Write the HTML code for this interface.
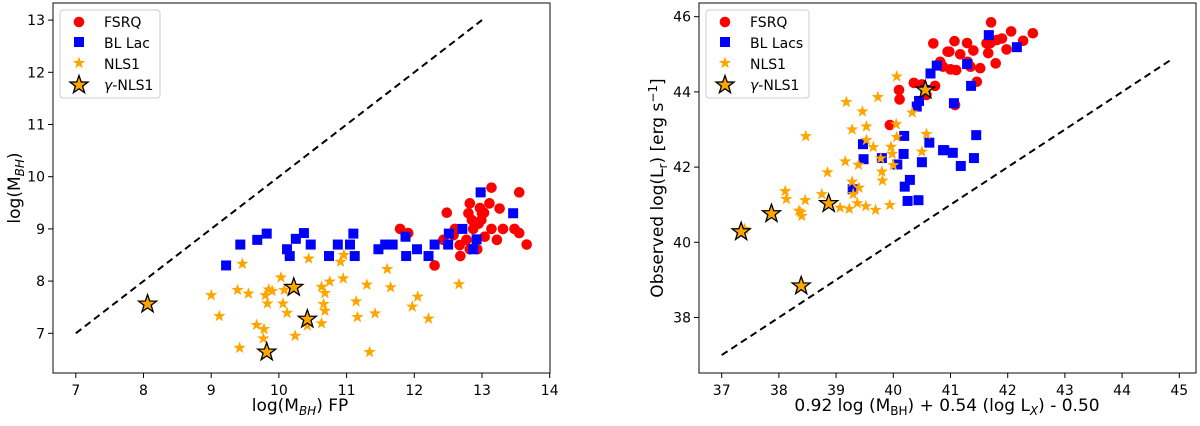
<!DOCTYPE html>
<html><head><meta charset="utf-8"><style>
html,body{margin:0;padding:0;background:#fff;}
svg{display:block;font-family:"DejaVu Sans","Liberation Sans",sans-serif;}
</style></head><body>
<svg id="fig" width="1200" height="426" viewBox="0 0 1200 426" xmlns="http://www.w3.org/2000/svg"></svg>
<script>
// ---- Left panel data ----
const leftFsrqX=[13.14,13.55,12.48,12.82,12.97,13.11,13.26,12.80,13.0,13.03,12.85,12.99,11.79,11.91,12.60,12.87,13.14,13.31,13.48,13.55,13.66,13.22,13.04,12.77,12.43,12.67,12.82,12.93,12.68,12.30,12.58,12.95];
const leftFsrqY=[9.79,9.70,9.31,9.49,9.40,9.49,9.39,9.30,9.30,9.31,9.17,9.17,9.00,8.92,9.00,9.00,9.00,9.00,9.00,8.92,8.70,8.79,8.85,8.79,8.79,8.69,8.61,8.61,8.48,8.30,8.88,9.10];
const leftBlX=[9.22,9.43,9.68,9.82,10.12,10.16,10.25,10.37,10.47,10.74,10.87,11.05,11.10,11.12,11.47,11.57,11.68,11.87,11.88,12.04,12.21,12.30,12.50,12.51,12.71,12.92,12.87,12.98,13.46];
const leftBlY=[8.30,8.70,8.79,8.91,8.61,8.48,8.81,8.92,8.70,8.48,8.70,8.70,8.91,8.48,8.61,8.70,8.70,8.85,8.48,8.61,8.48,8.70,8.70,8.91,9.00,8.80,8.61,9.70,9.30];
const leftNlsX=[9.0,9.12,9.39,9.55,9.46,9.42,9.67,9.78,9.77,9.80,9.85,9.9,9.83,10.03,10.06,10.12,10.08,10.24,10.44,10.96,10.91,10.95,10.75,10.63,10.68,10.66,10.68,10.63,10.42,11.30,11.14,11.16,11.42,11.34,11.60,11.65,12.05,11.97,12.21,12.66];
const leftNlsY=[7.73,7.33,7.83,7.76,8.33,6.72,7.16,7.08,6.90,7.73,7.84,7.81,7.57,8.07,7.57,7.39,7.83,6.95,8.43,8.50,8.37,8.05,7.99,7.89,7.77,7.56,7.43,7.19,7.15,7.93,7.61,7.31,7.38,6.64,8.23,7.88,7.70,7.51,7.28,7.94];
const leftGamX=[8.06,10.22,10.42,9.82];
const leftGamY=[7.56,7.88,7.27,6.64];
const leftXTicks=[7,8,9,10,11,12,13,14];
const leftYTicks=[7,8,9,10,11,12,13];
const leftLine=[7,13];
// ---- Right panel data ----
const rightFsrqX=[41.71,42.06,42.44,40.70,41.07,41.29,40.98,41.17,41.40,41.63,41.81,41.9,41.98,42.27,41.66,41.79,41.52,41.35,40.87,41.0,41.1,40.82,41.46,40.36,40.5,40.73,40.10,40.11,39.94,41.08,41.3,41.7,40.95,40.58];
const rightFsrqY=[45.85,45.61,45.56,45.29,45.35,45.3,45.07,45.0,45.1,45.29,45.38,45.42,45.13,45.36,45.03,44.76,44.63,44.67,44.67,44.6,44.58,44.8,44.27,44.24,44.2,44.16,44.05,43.80,43.12,43.65,44.8,45.3,45.07,43.92];
const rightBlX=[39.29,39.47,39.48,39.80,40.07,40.18,40.19,40.20,40.29,40.25,40.44,40.50,40.63,40.41,40.45,40.65,40.76,40.87,40.89,41.04,41.18,41.41,41.45,41.06,41.36,41.29,41.67,42.16,40.56];
const rightBlY=[41.41,42.61,42.21,42.24,42.07,42.35,42.83,41.48,41.66,41.10,41.12,42.13,42.65,43.61,43.76,44.49,44.70,42.45,42.45,42.38,42.03,42.24,42.85,43.70,44.16,44.74,45.51,45.19,44.05];
const rightNlsX=[37.4,38.11,38.13,38.35,38.4,38.38,38.46,38.47,38.75,38.85,39.07,39.16,39.18,39.23,39.28,39.3,39.37,39.4,39.39,39.28,39.46,39.53,39.53,39.52,39.65,39.73,39.69,39.78,39.80,39.81,39.94,39.96,39.98,40.0,40.05,40.06,40.06,40.33,40.50,40.58];
const rightNlsY=[40.35,41.36,41.15,40.84,40.7,40.8,41.12,42.82,41.28,41.86,40.92,42.15,43.73,40.89,41.61,41.28,41.04,41.45,42.06,43.0,43.48,43.08,42.72,40.96,42.53,43.86,40.86,42.23,41.88,41.64,40.99,42.54,42.35,42.05,43.14,42.8,44.41,43.45,42.41,42.88];
const rightGamX=[37.34,37.87,38.87,38.39,40.56];
const rightGamY=[40.28,40.76,41.03,38.84,44.05];
const rightXTicks=[37,38,39,40,41,42,43,44,45];
const rightYTicks=[38,40,42,44,46];
const rightLine=[37,44.85];

const NS="http://www.w3.org/2000/svg";
const svg=document.getElementById('fig');
function el(tag,attrs,parent,text){const e=document.createElementNS(NS,tag);for(const k in attrs)e.setAttribute(k,attrs[k]);if(text!==undefined)e.textContent=text;(parent||svg).appendChild(e);return e;}
function starPts(cx,cy,r){let p=[];for(let i=0;i<10;i++){const rr=i%2?r*0.4:r;const a=-Math.PI/2+i*Math.PI/5;p.push((cx+rr*Math.cos(a)).toFixed(2)+','+(cy+rr*Math.sin(a)).toFixed(2));}return p.join(' ');}

function panel(o){
  const sx=v=>o.x0px+(v-o.x0v)*o.xs;
  const sy=v=>o.y0px-(v-o.y0v)*o.ys;
  const g=el('g',{});
  
  
  // dashed line
  const ln=el('line',{x1:sx(o.line[0]),y1:sy(o.line[0]),x2:sx(o.line[1]),y2:sy(o.line[1]),stroke:'#000','stroke-width':2,'stroke-dasharray':'7,4.5'},g);
  
  
  // FSRQ
  o.fx.forEach((v,i)=>{const c=el('circle',{cx:sx(v),cy:sy(o.fy[i]),r:5.3,fill:'#ff0000'},g);
    
    });
  o.bx.forEach((v,i)=>{const r=el('rect',{x:sx(v)-5,y:sy(o.by[i])-5,width:10,height:10,fill:'#0000ff'},g);
    
    });
  o.nx.forEach((v,i)=>{const s=el('polygon',{points:starPts(sx(v),sy(o.ny[i]),6.5),fill:'#ffa500'},g);
    
    });
  o.gx.forEach((v,i)=>{const s=el('polygon',{points:starPts(sx(v),sy(o.gy[i]),9.5),fill:'#ffa500',stroke:'#000','stroke-width':1.3,'stroke-linejoin':'miter'},g);
    
    });
  // frame
  const fr=el('rect',{x:o.L,y:o.T,width:o.R-o.L,height:o.B-o.T,fill:'none',stroke:'#333','stroke-width':1.2},g);
  
  
  o.xt.forEach(t=>{const x=sx(t);el('line',{x1:x,y1:o.B,x2:x,y2:o.B+5,stroke:'#000','stroke-width':1},g);
    const tx=el('text',{x:x,y:o.B+22,'font-size':14,'text-anchor':'middle',fill:'#000'},g,String(t));
    
    });
  o.yt.forEach(t=>{const y=sy(t);el('line',{x1:o.L-5,y1:y,x2:o.L,y2:y,stroke:'#000','stroke-width':1},g);
    const tx=el('text',{x:o.L-8,y:y+5,'font-size':14,'text-anchor':'end',fill:'#000'},g,String(t));
    
    });
  // legend
  const lg=el('g',{},g);
  
  
  el('rect',{x:o.lx,y:10,width:o.lw,height:88,rx:3,fill:'#fff',stroke:'#ccc','stroke-width':1},lg);
  const mx=o.lx+19, tx0=o.lx+44;
  el('circle',{cx:mx,cy:22,r:5.3,fill:'#ff0000'},lg);
  el('rect',{x:mx-5,y:37,width:10,height:10,fill:'#0000ff'},lg);
  el('polygon',{points:starPts(mx,63,6.5),fill:'#ffa500'},lg);
  el('polygon',{points:starPts(mx,85,9.5),fill:'#ffa500',stroke:'#000','stroke-width':1.3},lg);
  o.labels.forEach((t,i)=>{const e=el('text',{x:tx0,y:27+i*21,'font-size':14,fill:'#000'},lg);
    
    
    if(i===3){el('tspan',{'font-style':'italic'},e,'γ');el('tspan',{},e,'-NLS1');}else e.textContent=t;});
}

panel({name:'left-panel',L:53,R:550,T:3,B:373,x0px:75.8,x0v:7,xs:67.7,y0px:333.3,y0v:7,ys:52.2,
  line:leftLine,fx:leftFsrqX,fy:leftFsrqY,bx:leftBlX,by:leftBlY,nx:leftNlsX,ny:leftNlsY,gx:leftGamX,gy:leftGamY,
  xt:leftXTicks,yt:leftYTicks,lx:60,lw:100,labels:['FSRQ','BL Lac','NLS1','γ-NLS1']});
panel({name:'right-panel',L:699,R:1196,T:3,B:373,x0px:721.7,x0v:37,xs:57.2,y0px:16.7,y0v:46,ys:37.6,
  line:rightLine,fx:rightFsrqX,fy:rightFsrqY,bx:rightBlX,by:rightBlY,nx:rightNlsX,ny:rightNlsY,gx:rightGamX,gy:rightGamY,
  xt:rightXTicks,yt:rightYTicks,lx:706,lw:103,labels:['FSRQ','BL Lacs','NLS1','γ-NLS1']});
</script>
<svg width="0" height="0"></svg>
<script>
(function(){
const svg=document.getElementById('fig');const NS="http://www.w3.org/2000/svg";
function add(html){const g=document.createElementNS(NS,'g');g.innerHTML=html;svg.appendChild(g);}
add('<text x="300" y="411" font-size="17" text-anchor="middle">log(M<tspan font-size="12" dy="4" font-style="italic">BH</tspan><tspan dy="-4">) FP</tspan></text>');
add('<text transform="translate(20,188) rotate(-90)" font-size="17" text-anchor="middle">log(M<tspan font-size="12" dy="4" font-style="italic">BH</tspan><tspan dy="-4">)</tspan></text>');
add('<text x="947" y="411" font-size="17" text-anchor="middle">0.92 log (M<tspan font-size="12" dy="4">BH</tspan><tspan dy="-4">) + 0.54 (log L</tspan><tspan font-size="12" dy="4" font-style="italic">X</tspan><tspan dy="-4">) - 0.50</tspan></text>');
add('<text transform="translate(663,188) rotate(-90)" font-size="17" text-anchor="middle">Observed log(L<tspan font-size="12" dy="4">r</tspan><tspan dy="-4">) [erg s</tspan><tspan font-size="12" dy="-6">−1</tspan><tspan dy="6">]</tspan></text>');
})();
</script>
</body></html>
